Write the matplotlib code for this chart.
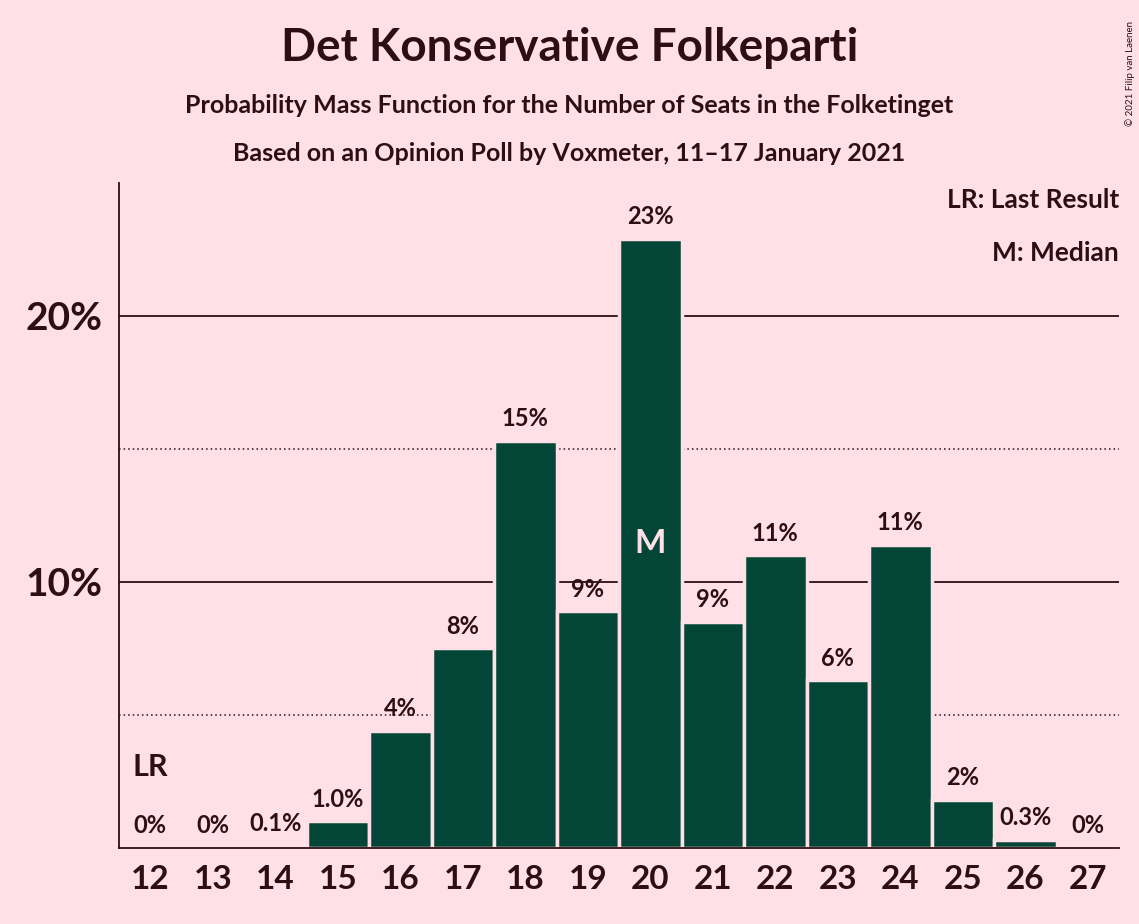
import matplotlib.pyplot as plt

seats = list(range(12, 28))
probs = [0, 0, 0.1, 1.0, 4.4, 7.5, 15.3, 8.9, 22.9, 8.5, 11.0, 6.3, 11.4, 1.8, 0.3, 0]
labels = ["0%", "0%", "0.1%", "1.0%", "4%", "8%", "15%", "9%", "23%", "9%", "11%", "6%", "11%", "2%", "0.3%", "0%"]
last_result = 12
median = 20

bg = '#FFE0E6'
bar_color = '#034638'
txt = '#2B0F14'
plt.rcParams['font.family'] = ['Lato', 'DejaVu Sans']

fig = plt.figure(figsize=(11.39, 9.24), dpi=100, facecolor=bg)
ax = fig.add_axes([0.1045, 0.0823, 0.878, 0.7197], facecolor=bg)

for y in (10, 20):
    ax.axhline(y, color=txt, lw=1.3, zorder=1)
for y in (5, 15):
    ax.axhline(y, color=txt, lw=1.1, ls=(0, (1, 2)), zorder=1)

ax.bar(seats, probs, width=1.0, color=bar_color, edgecolor=bg, lw=2.5, zorder=2)

for s, p, l in zip(seats, probs, labels):
    ax.text(s, p + 0.4, l, ha='center', va='bottom', fontsize=17, fontweight='bold', color=txt)
ax.text(last_result, 2.5, "LR", ha='center', va='bottom', fontsize=22, fontweight='bold', color=txt)
ax.text(median, probs[seats.index(median)] / 2, "M", ha='center', va='center',
        fontsize=24, fontweight='bold', color=bg, zorder=3)

ax.set_xlim(11.5, 27.5)
ax.set_ylim(0, 25)
ax.set_xticks(seats)
ax.set_xticklabels([str(s) for s in seats], fontsize=24, fontweight='bold', color=txt)
ax.set_yticks([10, 20])
ax.set_yticklabels(["10%", "20%"], fontsize=28, fontweight='bold', color=txt)
ax.tick_params(length=0, pad=12)
for side in ('top', 'right'):
    ax.spines[side].set_visible(False)
ax.spines['left'].set_color(txt)
ax.spines['bottom'].set_color(txt)
ax.spines['left'].set_linewidth(1.3)
ax.spines['bottom'].set_linewidth(1.3)

ax.text(1.0, 0.975, "LR: Last Result", transform=ax.transAxes, ha='right', va='center',
        fontsize=19, fontweight='bold', color=txt)
ax.text(1.0, 0.895, "M: Median", transform=ax.transAxes, ha='right', va='center',
        fontsize=19, fontweight='bold', color=txt)

fig.text(0.5, 0.948, "Det Konservative Folkeparti", ha='center', va='center',
         fontsize=33, fontweight='bold', color=txt)
fig.text(0.5, 0.886, "Probability Mass Function for the Number of Seats in the Folketinget",
         ha='center', va='center', fontsize=18, fontweight='bold', color=txt)
fig.text(0.5, 0.834, "Based on an Opinion Poll by Voxmeter, 11\u201317 January 2021",
         ha='center', va='center', fontsize=18, fontweight='bold', color=txt)
fig.text(0.992, 0.92, "\u00a9 2021 Filip van Laenen", ha='center', va='center',
         rotation=90, fontsize=7, color=txt)

fig.savefig('out.png', dpi=100, facecolor=bg)
